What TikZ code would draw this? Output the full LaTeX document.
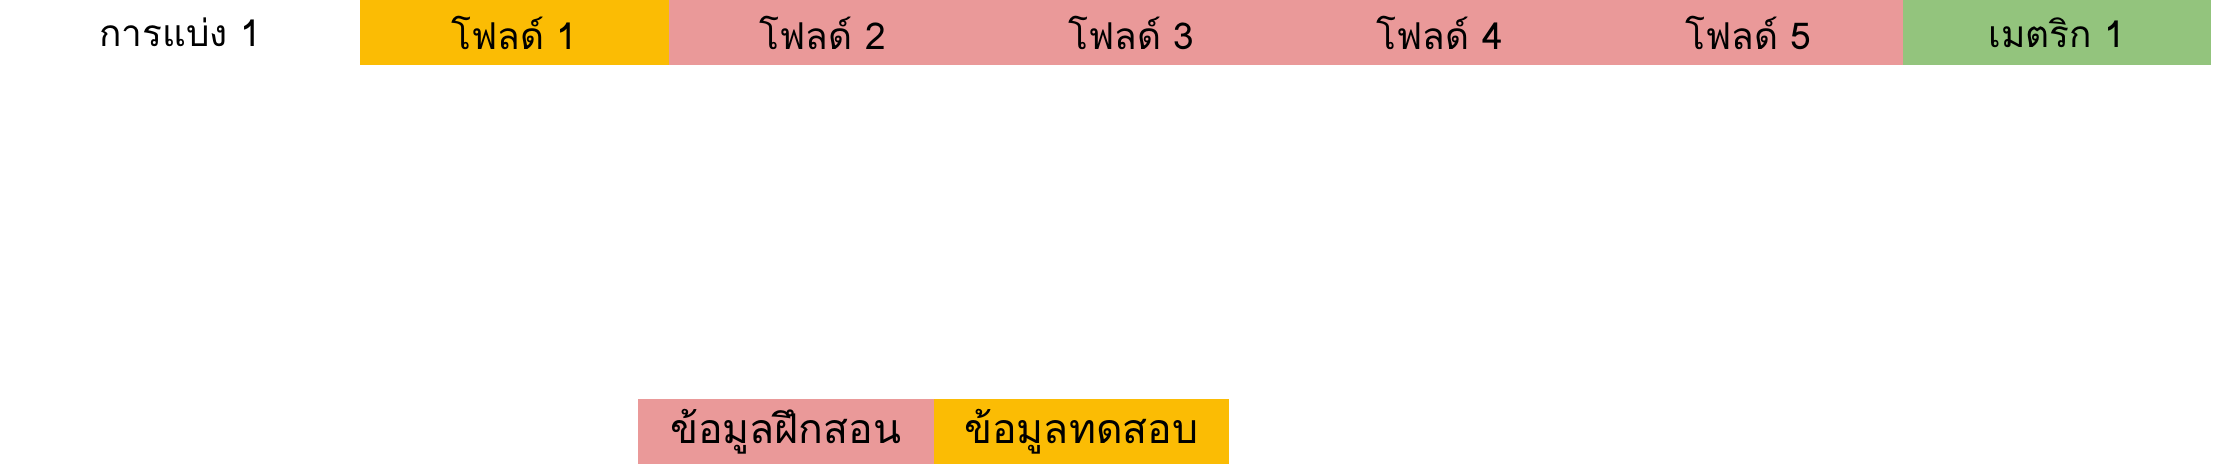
\documentclass[tikz,border=0pt]{standalone}
\usepackage{fontspec}
\newfontfamily\thaifont[Script=Thai]{Loma}
\usepackage{tikz}
\usetikzlibrary{positioning}
\definecolor{testgold}{HTML}{FBBC04}
\definecolor{trainrose}{HTML}{EA9999}
\definecolor{metricgreen}{HTML}{93C47D}
\tikzset{
  cell/.style={minimum width=308.5pt,minimum height=65pt,inner sep=0pt,outer sep=0pt,
    font=\thaifont\fontsize{37}{40}\selectfont},
  datacell/.style={cell,minimum width=295.5pt,font=\thaifont\fontsize{41}{44}\selectfont}
}

\begin{document}
\begin{tikzpicture}[x=1pt,y=1pt]
    \useasboundingbox (0,0) rectangle (2220,464);
    % folds of the split
    \node[cell,fill=testgold,anchor=north west] (fold1) at (360,464) {โฟลด์ 1};
    \node[cell,fill=trainrose,right=0pt of fold1] (fold2) {โฟลด์ 2};
    \node[cell,fill=trainrose,right=0pt of fold2] (fold3) {โฟลด์ 3};
    \node[cell,fill=trainrose,right=0pt of fold3] (fold4) {โฟลด์ 4};
    \node[cell,fill=trainrose,right=0pt of fold4] (fold5) {โฟลด์ 5};
    \node[cell,fill=metricgreen,right=0pt of fold5] (metric) {เมตริก 1};
    \node[cell,minimum width=360pt,left=0pt of fold1] (split) {การแบ่ง 1};
    % legend
    \node[datacell,fill=trainrose,anchor=south west] (train) at (638,0) {ข้อมูลฝึกสอน};
    \node[datacell,fill=testgold,right=0pt of train] (test) {ข้อมูลทดสอบ};
\end{tikzpicture}
\end{document}
